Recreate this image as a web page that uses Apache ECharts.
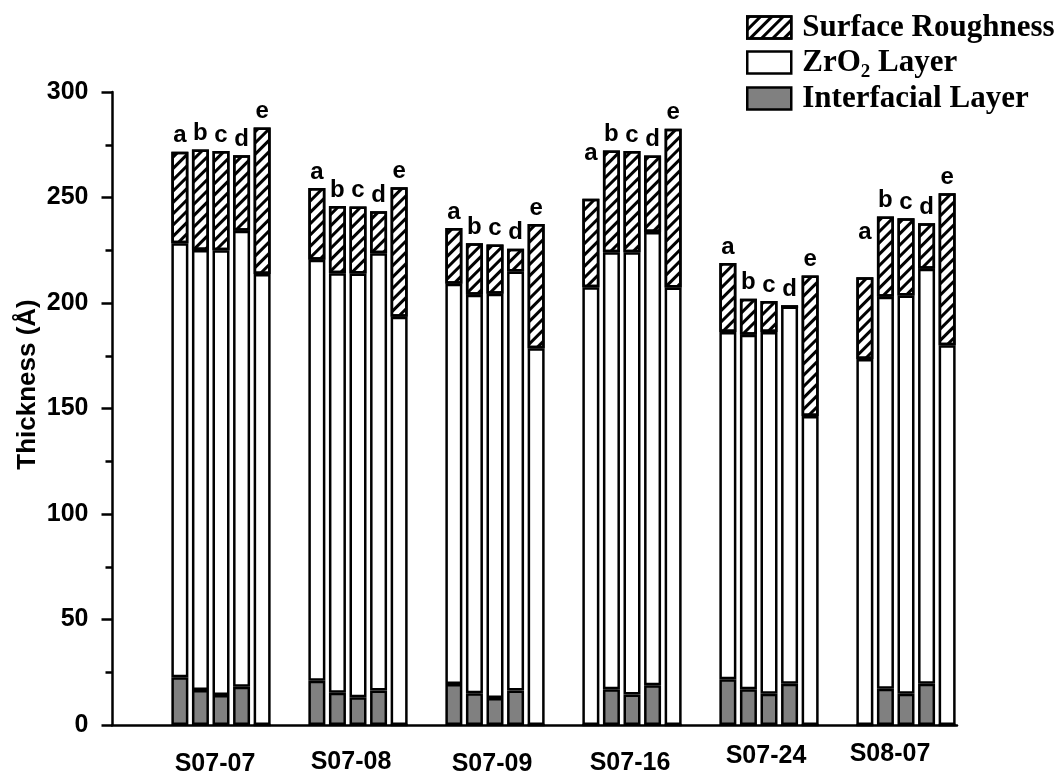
<!DOCTYPE html>
<html>
<head>
<meta charset="utf-8">
<script src="https://cdn.jsdelivr.net/npm/echarts@6/dist/echarts.min.js"></script>
<style>
html,body{margin:0;padding:0;background:#fff;}
#chart{width:1059px;height:782px;}
</style>
</head>
<body>
<div id="chart"></div>
<script>
// ---- data ----
const categories = ['S07-07', 'S07-08', 'S07-09', 'S07-16', 'S07-24', 'S08-07'];
const letters = ['a', 'b', 'c', 'd', 'e'];
// rows = samples a..e, columns = categories (thickness in Å)
const interfacialLayer = [
  [22.6, 21.0, 19.4, 0, 21.7, 0],
  [16.6, 15.3, 15.0, 16.9, 16.9, 17.2],
  [14.2, 13.1, 12.8, 14.5, 14.8, 14.8],
  [18.1, 16.3, 16.3, 18.8, 19.6, 19.6],
  [0, 0, 0, 0, 0, 0]
];
const zro2Layer = [
  [205.7, 199.5, 189.7, 207.5, 164.5, 173.5],
  [208.5, 198.8, 188.9, 207.2, 168.1, 185.8],
  [210.8, 200.9, 191.6, 209.6, 171.4, 188.7],
  [216.2, 207.3, 198.6, 214.8, 178.7, 196.6],
  [213.7, 193.5, 178.5, 207.3, 146.5, 180.0]
];
const surfaceRoughness = [
  [43.4, 34.0, 26.4, 41.9, 32.8, 38.7],
  [47.7, 31.9, 24.4, 48.2, 17.0, 38.0],
  [47.0, 31.7, 23.3, 47.9, 14.7, 36.7],
  [35.7, 19.9, 10.8, 36.3, 0, 21.6],
  [69.5, 61.4, 59.0, 75.3, 66.5, 72.0]
];
const yTicks = [0, 50, 100, 150, 200, 250, 300];
const legendNames = ['Surface Roughness', 'ZrO2 Layer', 'Interfacial Layer'];

// ---- styling (not data) ----
const raisedLabels = [[0, 3], [0, 5]];          // [letterIndex, categoryIndex] labels drawn higher
const catLabelNudge = [[6, 10], [7, 8], [3, 10], [2, 9], [3, 2], [16, 0]]; // [shift left px, shift down px]
const legendTops = [7, 42, 78];
const SANS = 'Liberation Sans, Arial, sans-serif';
const SERIF = 'Liberation Serif, Times New Roman, serif';
const sansBold = {fontFamily: SANS, fontWeight: 'bold', color: '#000'};
const border = {borderColor: '#000', borderWidth: 2.5};
const hatch = {symbol: 'rect', symbolSize: 1, dashArrayX: [1, 0], dashArrayY: [2.5, 4.5], rotation: -Math.PI / 4, color: '#000'};

const series = [];
letters.forEach((L, i) => {
  series.push({
    name: legendNames[2], type: 'bar', stack: L, barWidth: 17, barGap: '21%',
    itemStyle: Object.assign({color: '#808080'}, border),
    data: interfacialLayer[i]
  });
  series.push({
    name: legendNames[1], type: 'bar', stack: L, barWidth: 17, barGap: '21%',
    itemStyle: Object.assign({color: '#ffffff'}, border),
    data: zro2Layer[i]
  });
  series.push({
    name: legendNames[0], type: 'bar', stack: L, barWidth: 17, barGap: '21%',
    itemStyle: Object.assign({color: '#ffffff', decal: hatch}, border),
    label: Object.assign({show: true, position: 'top', distance: 4, fontSize: 24, formatter: () => L}, sansBold),
    data: surfaceRoughness[i].map((v, g) =>
      raisedLabels.some(r => r[0] === i && r[1] === g) ? {value: v, label: {distance: 33}} : v)
  });
});

const catRich = {};
catLabelNudge.forEach((n, i) => {
  catRich['c' + i] = Object.assign({fontSize: 25, padding: [n[1], 2 * n[0], 0, 0]}, sansBold);
});

const legends = legendNames.map((nm, k) => ({
  data: [nm],
  orient: 'vertical', left: 741, top: legendTops[k],
  itemWidth: 44, itemHeight: 22, itemGap: 0,
  icon: 'rect',
  itemStyle: {borderColor: '#000', borderWidth: 2.5},
  textStyle: {
    fontFamily: SERIF, fontWeight: 'bold', fontSize: 31, color: '#000', padding: [0, 0, 0, 6],
    rich: {
      n: {fontFamily: SERIF, fontWeight: 'bold', fontSize: 31, color: '#000'},
      s: {fontFamily: SERIF, fontWeight: 'bold', fontSize: 19, color: '#000', padding: [20, 0, 0, 0]}
    }
  },
  formatter: name => name === 'ZrO2 Layer' ? '{n|ZrO}{s|2}{n| Layer}' : name
}));

const chart = echarts.init(document.getElementById('chart'), null, {renderer: 'canvas'});
chart.setOption({
  animation: false,
  backgroundColor: '#fff',
  grid: [
    {left: 152.5, right: 84.5, top: 92, bottom: 57, outerBoundsMode: 'none', containLabel: false},
    {left: 112, right: 102, top: 92, bottom: 57, outerBoundsMode: 'none', containLabel: false}
  ],
  legend: legends,
  xAxis: [
    {
      type: 'category', gridIndex: 0, data: categories,
      axisLine: {show: false}, axisTick: {show: false},
      axisLabel: Object.assign({
        interval: 0, fontSize: 25, margin: 17,
        formatter: (v, i) => '{c' + i + '|' + v + '}',
        rich: catRich
      }, sansBold)
    },
    {
      type: 'category', gridIndex: 1, data: [''],
      axisLine: {show: true, lineStyle: {color: '#000', width: 2.5}},
      axisTick: {show: false}, axisLabel: {show: false}
    }
  ],
  yAxis: [
    {
      type: 'value', gridIndex: 0, min: yTicks[0], max: yTicks[yTicks.length - 1], interval: 50,
      offset: 40,
      name: 'Thickness (Å)', nameLocation: 'middle', nameGap: 72, nameMoveOverlap: false,
      nameTextStyle: Object.assign({fontSize: 26, padding: [0, 0, 0, 48]}, sansBold),
      axisLine: {show: true, lineStyle: {color: '#000', width: 2.5}},
      axisTick: {show: true, length: 11, lineStyle: {color: '#000', width: 2.5}},
      minorTick: {show: true, splitNumber: 2, length: 7, lineStyle: {color: '#000', width: 2.5}},
      splitLine: {show: false},
      axisLabel: Object.assign({fontSize: 25, margin: 24}, sansBold)
    },
    {type: 'value', gridIndex: 1, show: false}
  ],
  series: series
});
</script>
</body>
</html>
